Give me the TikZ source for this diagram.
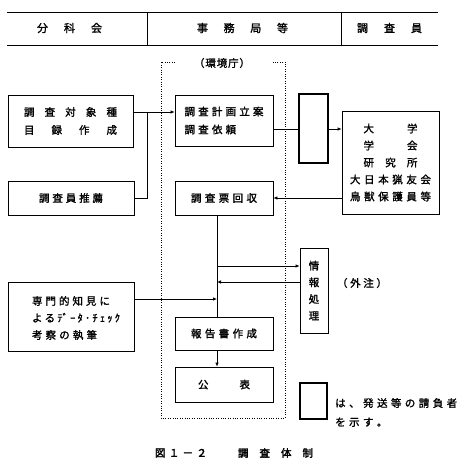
\documentclass[tikz,border=0pt]{standalone}
\usepackage{fontspec}
\newfontfamily\jp{Noto Sans CJK JP}[FakeBold=1.5]
\newfontfamily\jpb{Noto Sans CJK JP}[FakeBold=2.5]
\usetikzlibrary{arrows.meta}
\def\sprx#1{#1\futurelet\sprnext\spry}
\def\spry{\ifx\sprnext\relax\expandafter\sprgobble\else\hfill\expandafter\sprx\fi}
\def\sprgobble#1{}
\newcommand\spr[2]{\makebox[#1pt][s]{\sprx#2\relax}}
\begin{document}
\begin{tikzpicture}[x=1pt,y=-1pt,
  box/.style={draw,line width=0.7pt,inner sep=0pt,font=\jp\fontsize{10.5}{18}\selectfont,align=center},
  thickbox/.style={draw,line width=1.8pt,inner sep=0pt},
  conn/.style={line width=0.7pt},
  arr/.style={conn,-{Latex[length=4pt,width=3.5pt]}},
  txt/.style={font=\jp\fontsize{10.5}{18}\selectfont,inner sep=0pt},
  captxt/.style={font=\jpb\fontsize{10.5}{18}\selectfont,inner sep=0pt},
  hdr/.style={font=\jp\fontsize{11}{13}\selectfont,inner sep=0pt},
  dots/.style={line width=1pt,dash pattern=on 0.8pt off 1.6pt}]
\useasboundingbox (0,0) rectangle (474,471);
% header
\draw[line width=1pt] (7,12) -- (438,12);
\draw[line width=1pt] (7,45) -- (438,45);
\draw[line width=1pt] (147,12) -- (147,45);
\draw[line width=1pt] (341,12) -- (341,45);
\node[hdr] (h1) at (69.5,28) {\spr{65}{分科会}};
\node[hdr] (h2) at (242.5,28) {\spr{91}{事務局等}};
\node[hdr] (h3) at (389.5,28) {\spr{65}{調査員}};
% dotted frame
\draw[dots] (175,62) -- (161,62) -- (161,418) -- (285,418) -- (285,62) -- (272,62);
\node[txt] (env) at (222,63) {\spr{56}{（環境庁）}};
% boxes
\node[box,minimum width=125pt,minimum height=52pt] (A) at (70.5,121) {\spr{93}{調査対象種}\\\spr{93}{目録作成}};
\node[box,minimum width=126pt,minimum height=34pt] (B) at (71,198) {\spr{64}{調査員推薦}};
\node[box,align=left,minimum width=98pt,minimum height=51pt] (C) at (224,120.5) {\spr{79}{調査計画立案}\\\spr{51.6}{調査依頼}};
\node[box,minimum width=98pt,minimum height=34pt] (D) at (224,198) {\spr{66}{調査票回収}};
\node[thickbox,minimum width=29pt,minimum height=69pt] (E) at (313.5,128.5) {};
\node[box,minimum width=97pt,minimum height=103pt,font=\jp\fontsize{10.5}{17}\selectfont] (F) at (390.5,162.5)
  {\spr{54}{大学}\\\spr{54}{学会}\\\spr{54}{研究所}\\\spr{81}{大日本猟友会}\\\spr{81}{鳥獣保護員等}};
\node[box,minimum width=126pt,minimum height=69pt] (G) at (71,316.5) {};
\node[txt,align=left,font=\jp\fontsize{10.5}{17}\selectfont] (Gt) at (76,318)
  {\spr{78}{専門的知見に}\\\makebox[88pt][s]{よ\hfill る\hfill ﾃﾞ\hfill ｰ\hfill ﾀ\hfill ･\hfill ﾁ\hfill ｪ\hfill ｯ\hfill ｸ}\\\spr{65}{考察の執筆}};
\node[box,minimum width=98pt,minimum height=33pt] (H) at (224,333.5) {\spr{66}{報告書作成}};
\node[box,minimum width=98pt,minimum height=35pt] (I) at (224,384.5) {\spr{52}{公表}};
\node[box,minimum width=28pt,minimum height=85pt,font=\jp\fontsize{10.5}{16.7}\selectfont] (J) at (314,290.5) {情\\報\\処\\理};
\node[txt] (gaichu) at (362,283) {\spr{50}{（外注）}};
\node[thickbox,minimum width=27pt,minimum height=36pt] (K) at (313.5,401) {};
\node[txt,anchor=west,align=left,font=\jp\fontsize{10.5}{19}\selectfont] (Kt) at (335,412.5)
  {\spr{122}{は、発送等の請負者}\\\spr{52.2}{を示す。}};
% caption
\node[captxt] (cap1) at (181,453) {\spr{52}{図１－２}};
\node[captxt] (cap2) at (275.5,453) {\spr{75}{調査体制}};
% connectors
\coordinate (jA) at (147,112);
\draw[conn] (A.east |- jA) -- (jA);
\draw[arr] (jA) -- (jA -| C.west);
\draw[conn] (B.east) -- (B.east -| jA) -- (jA);
\coordinate (yCE) at (0,129);
\draw[conn] (C.east |- yCE) -- (E.west |- yCE);
\draw[arr] (E.east |- yCE) -- (F.west |- yCE);
\draw[arr] (F.west |- D.east) -- (D.east);
\coordinate (spine) at (217,0);
\draw[conn] (D.south -| spine) -- (H.north -| spine);
\coordinate (s1) at (217,266);
\coordinate (s2) at (217,282);
\coordinate (s3) at (217,299);
\draw[arr] (s1) -- (s1 -| J.west);
\draw[arr] (s2 -| J.west) -- (s2);
\draw[arr] (G.east |- s3) -- (s3);
\draw[arr] (H.south -| spine) -- (I.north -| spine);
\end{tikzpicture}
\end{document}
